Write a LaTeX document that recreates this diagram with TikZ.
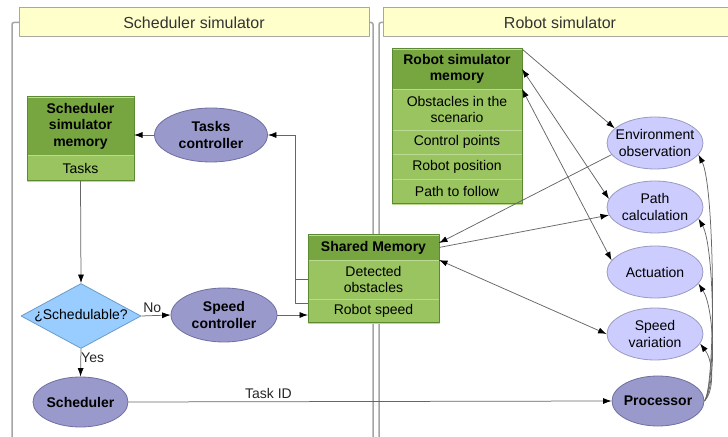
\documentclass[tikz,border=0pt]{standalone}
\usepackage{fontspec}
\setmainfont{Liberation Sans}
\usetikzlibrary{positioning,shapes.geometric,arrows.meta}
\definecolor{hdryellow}{HTML}{FFFFCC}
\definecolor{hdrborder}{HTML}{A8A8A0}
\definecolor{panelline}{HTML}{A4A4A4}
\definecolor{memdark}{HTML}{77A641}
\definecolor{memlight}{HTML}{99C45F}
\definecolor{memborder}{HTML}{5B8A32}
\definecolor{memsep}{HTML}{BBDB93}
\definecolor{procdark}{HTML}{9999CC}
\definecolor{procborder}{HTML}{6F6FA0}
\definecolor{proclight}{HTML}{CCCCFF}
\definecolor{lightborder}{HTML}{9A9AC0}
\definecolor{decblue}{HTML}{99CCFF}
\definecolor{decborder}{HTML}{6A9CC8}
\definecolor{edgegray}{HTML}{666666}
\tikzset{
  txt/.style={font=\fontsize{14bp}{16.5bp}\selectfont},
  paneltitle/.style={draw=hdrborder,fill=hdryellow,line width=1bp,text=black!80,
    font=\fontsize{16bp}{18bp}\selectfont,minimum height=29bp,inner sep=0pt,outer sep=0pt},
  panel/.style={draw=panelline,line width=1.5bp,rounded corners=2bp},
  memhdr/.style={fill=memdark,draw=memsep,align=center,inner sep=2bp,outer sep=0pt,
    minimum width=#1,font=\fontsize{14bp}{16.5bp}\selectfont\bfseries},
  memrow/.style={txt,fill=memlight,draw=memsep,align=center,inner sep=2bp,outer sep=0pt,
    minimum width=#1},
  memframe/.style={draw=memborder,line width=1bp},
  bigproc/.style={ellipse,fill=procdark,draw=procborder,line width=0.8bp,align=center,
    inner sep=0pt,inner xsep=-8bp,font=\fontsize{14bp}{16.5bp}\selectfont\bfseries},
  subproc/.style={ellipse,txt,fill=proclight,draw=lightborder,line width=0.8bp,align=center,
    inner sep=0pt,inner xsep=-8bp,minimum width=96bp,minimum height=52bp},
  decision/.style={diamond,txt,fill=decblue,draw=decborder,line width=0.8bp,aspect=1.85,
    inner sep=0pt,minimum width=120bp,minimum height=65bp},
  lbl/.style={txt,text=black!85,inner sep=2bp},
  flow/.style={draw=edgegray,line width=0.75bp,->},
  flowboth/.style={draw=edgegray,line width=0.75bp,<->},
  plain/.style={draw=edgegray,line width=0.75bp},
}
\begin{document}
\begin{tikzpicture}[>={Latex[color=black,length=8.5bp,width=6bp]},line join=bevel,]
\useasboundingbox (0bp,0bp) rectangle (728bp,437bp);
%%
\node (schedtitle) at (194bp,414.5bp) [paneltitle,minimum width=350bp] {Scheduler simulator};
\node (robtitle) at (560bp,414.5bp) [paneltitle,minimum width=354bp] {Robot simulator};
\draw [panel] (schedtitle.west) -| (12bp,-2bp);
\draw [panel] (schedtitle.east) -| (373bp,-2bp);
\draw [panel] (robtitle.west) -| (379bp,-2bp);
%
\node (schedhdr) at (80.5bp,311bp) [memhdr=107bp,minimum height=58bp] {Scheduler\\simulator\\memory};
\node (schedtasks) [memrow=107bp,minimum height=26bp,below=0pt of schedhdr] {Tasks};
\draw [memframe] (schedhdr.north west) rectangle (schedtasks.south east);
%
\node (robhdr) at (457bp,368bp) [memhdr=130bp,minimum height=40bp] {Robot simulator\\memory};
\node (robobst) [memrow=130bp,minimum height=41bp,below=0pt of robhdr] {Obstacles in the\\scenario};
\node (robctrl) [memrow=130bp,minimum height=24bp,below=0pt of robobst] {Control points};
\node (robpos) [memrow=130bp,minimum height=25bp,below=0pt of robctrl] {Robot position};
\node (robpath) [memrow=130bp,minimum height=25bp,below=0pt of robpos] {Path to follow};
\draw [memframe] (robhdr.north west) rectangle (robpath.south east);
%
\node (shhdr) at (373.5bp,189.5bp) [memhdr=131bp,minimum height=25bp] {Shared Memory};
\node (shdet) [memrow=131bp,minimum height=39bp,below=0pt of shhdr] {Detected\\obstacles};
\node (shspd) [memrow=131bp,minimum height=24bp,below=0pt of shdet] {Robot speed};
\draw [memframe] (shhdr.north west) rectangle (shspd.south east);
%
\node (taskctl) at (211bp,302bp) [bigproc,minimum width=113bp,minimum height=54bp] {Tasks\\controller};
\node (check) at (81bp,121bp) [decision] {¿Schedulable?};
\node (spdctl) at (224bp,122bp) [bigproc,minimum width=106bp,minimum height=54bp] {Speed\\controller};
\node (sched) at (80.5bp,35bp) [bigproc,minimum width=95bp,minimum height=50bp] {Scheduler};
\node (proc) at (658bp,36bp) [bigproc,minimum width=92bp,minimum height=50bp] {Processor};
%
\node (envobs) at (655bp,294bp) [subproc] {Environment\\observation};
\node (pathcalc) at (655bp,230bp) [subproc] {Path\\calculation};
\node (actuation) at (655bp,165bp) [subproc] {Actuation};
\node (spdvar) at (655bp,103bp) [subproc] {Speed\\variation};
%%
\coordinate (tcturn) at (295bp,302bp);
\draw [flow] (taskctl.west) -- (taskctl.west -| schedhdr.east);
\draw [flow] (shdet.west) -| (tcturn) -- (taskctl.east);
\draw [plain] ([yshift=8bp]shspd.west) -| (tcturn);
\draw [flow] (schedtasks.south) -- (check.north);
\draw [flow] (check.east) -- node [lbl,above,pos=0.37,yshift=1bp] {No} (spdctl.west);
\draw [flow] (spdctl.east) -- (spdctl.east -| shspd.west);
\draw [flow] (check.south) -- node [lbl,right,pos=0.33,xshift=-2bp] {Yes} (sched.north);
\draw [flow] (sched.east) -- node [lbl,above,pos=0.29,yshift=1bp] {Task ID} (proc.west);
%
\draw [flow] (robhdr.north east) -- (envobs.160);
\draw [flowboth] (robhdr.east) -- (pathcalc.170);
\draw [flowboth] (robhdr.south east) -- (actuation.165);
\draw [flow] (envobs.195) -- ([yshift=4.5bp]shhdr.east);
\draw [flow] (shhdr.east) -- (pathcalc.190);
\draw [flowboth] (shhdr.south east) -- (spdvar.180);
%
\draw [flow] (proc.east) ..controls (716bp,50bp) and (715bp,250bp) .. (envobs.-15);
\draw [flow] (proc.east) ..controls (716bp,50bp) and (715bp,190bp) .. (pathcalc.-15);
\draw [flow] (proc.east) ..controls (716bp,50bp) and (715bp,128bp) .. (actuation.-15);
\draw [flow] (proc.east) ..controls (714bp,45bp) and (714bp,75bp) .. (spdvar.-12);
%
\end{tikzpicture}
\end{document}
